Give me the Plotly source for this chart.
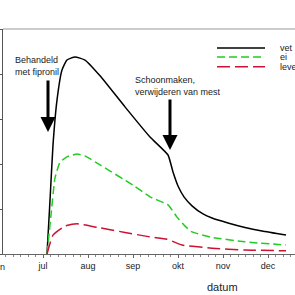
import plotly.graph_objects as go

# x in months after 1 June (jul = 1, aug = 2, ...), y in chart units
month_vals = [1, 2, 3, 4, 5, 6]
month_text = ["jul", "aug", "sep", "okt", "nov", "dec"]

vet_x = [1.089, 1.156, 1.222, 1.311, 1.422, 1.533, 1.711, 1.933, 2.267, 2.822, 3.378, 3.778,
         3.889, 4.0, 4.133, 4.311, 4.556, 4.756, 5.111, 5.489, 5.867, 6.4]
vet_y = [0.0, 1.2, 2.42, 3.42, 4.09, 4.31, 4.38, 4.31, 3.96, 3.27, 2.6, 2.2,
         1.82, 1.51, 1.27, 1.07, 0.89, 0.80, 0.69, 0.59, 0.51, 0.42]

ei_x = [1.089, 1.178, 1.267, 1.378, 1.533, 1.756, 1.933, 2.267, 3.0, 3.378, 3.778,
        3.978, 4.156, 4.311, 4.756, 5.489, 6.4]
ei_y = [0.0, 0.87, 1.69, 2.04, 2.16, 2.22, 2.18, 1.98, 1.53, 1.27, 1.09,
        0.82, 0.62, 0.49, 0.37, 0.27, 0.20]

lever_x = [1.089, 1.222, 1.489, 1.756, 2.267, 3.378, 3.756, 4.089, 4.756, 5.489, 6.4]
lever_y = [0.0, 0.42, 0.62, 0.67, 0.58, 0.38, 0.33, 0.20, 0.13, 0.09, 0.07]

series = [
    ("vet", vet_x, vet_y, "#000000", "solid"),
    ("ei", ei_x, ei_y, "#22cc22", "8px,4px"),
    ("lever", lever_x, lever_y, "#cc1133", "13px,5px"),
]

fig = go.Figure()
for name, xs, ys, col, dash in series:
    fig.add_trace(go.Scatter(x=xs, y=ys, mode="lines", name=name,
                             line=dict(color=col, width=1.5, dash=dash, shape="spline", smoothing=0.45),
                             showlegend=False))

font = dict(family="Liberation Sans, Arial, sans-serif", size=9, color="#222222")

shapes = [dict(type="line", xref="paper", yref="paper", x0=0, x1=1, y0=1, y1=1,
               line=dict(color="#999999", width=1))]
# legend samples
leg_y = [4.58, 4.38, 4.16]
for (name, xs, ys, col, dash), ly in zip(series, leg_y):
    shapes.append(dict(type="line", xref="x", yref="y", x0=4.867, x1=5.933, y0=ly, y1=ly,
                       line=dict(color=col, width=1.5, dash=dash)))

annotations = []
for (name, xs, ys, col, dash), ly in zip(series, leg_y):
    annotations.append(dict(x=6.22, y=ly, xref="x", yref="y", text=name, showarrow=False,
                            xanchor="left", yanchor="middle", font=font))

annotations += [
    dict(x=0.34, y=4.18, xref="x", yref="y", text="Behandeld<br>met fipronil", showarrow=False,
         xanchor="left", yanchor="middle", align="left", font=font),
    dict(x=2.99, y=3.73, xref="x", yref="y", text="Schoonmaken,<br>verwijderen van mest", showarrow=False,
         xanchor="left", yanchor="middle", align="left", font=font),
    dict(x=1.111, y=2.71, xref="x", yref="y", text="", showarrow=True, ax=0, ay=-53,
         arrowhead=2, arrowsize=1, arrowwidth=3, arrowcolor="#000000", standoff=0),
    dict(x=3.822, y=2.31, xref="x", yref="y", text="", showarrow=True, ax=0, ay=-52,
         arrowhead=2, arrowsize=1, arrowwidth=3, arrowcolor="#000000", standoff=0),
    dict(x=-0.017, y=-0.058, xref="paper", yref="paper", text="jun", showarrow=False,
         xanchor="center", yanchor="middle", font=font),
    dict(x=0.753, y=-0.147, xref="paper", yref="paper", text="datum", showarrow=False,
         xanchor="center", yanchor="middle", font=dict(family=font["family"], size=11, color="#222222")),
]

fig.update_layout(
    width=295, height=295, autosize=False,
    margin=dict(l=3, r=0, t=29, b=41),
    paper_bgcolor="white", plot_bgcolor="white",
    shapes=shapes, annotations=annotations,
    xaxis=dict(range=[0.111, 6.6], tickmode="array", tickvals=month_vals, ticktext=month_text,
               ticks="outside", ticklen=3, tickcolor="#666666", showline=True, linecolor="#666666",
               linewidth=1, showgrid=False, zeroline=False, tickfont=font,
               minor=dict(tickmode="linear", tick0=0, dtick=1/6, ticks="outside", ticklen=2,
                          tickcolor="#888888", showgrid=False)),
    yaxis=dict(range=[0, 5], tickmode="linear", tick0=0, dtick=1, ticks="outside", ticklen=3,
               tickcolor="#555555", showline=True, linecolor="#555555", linewidth=1,
               showticklabels=False, showgrid=False, zeroline=False),
)

fig.write_html("out.html")
